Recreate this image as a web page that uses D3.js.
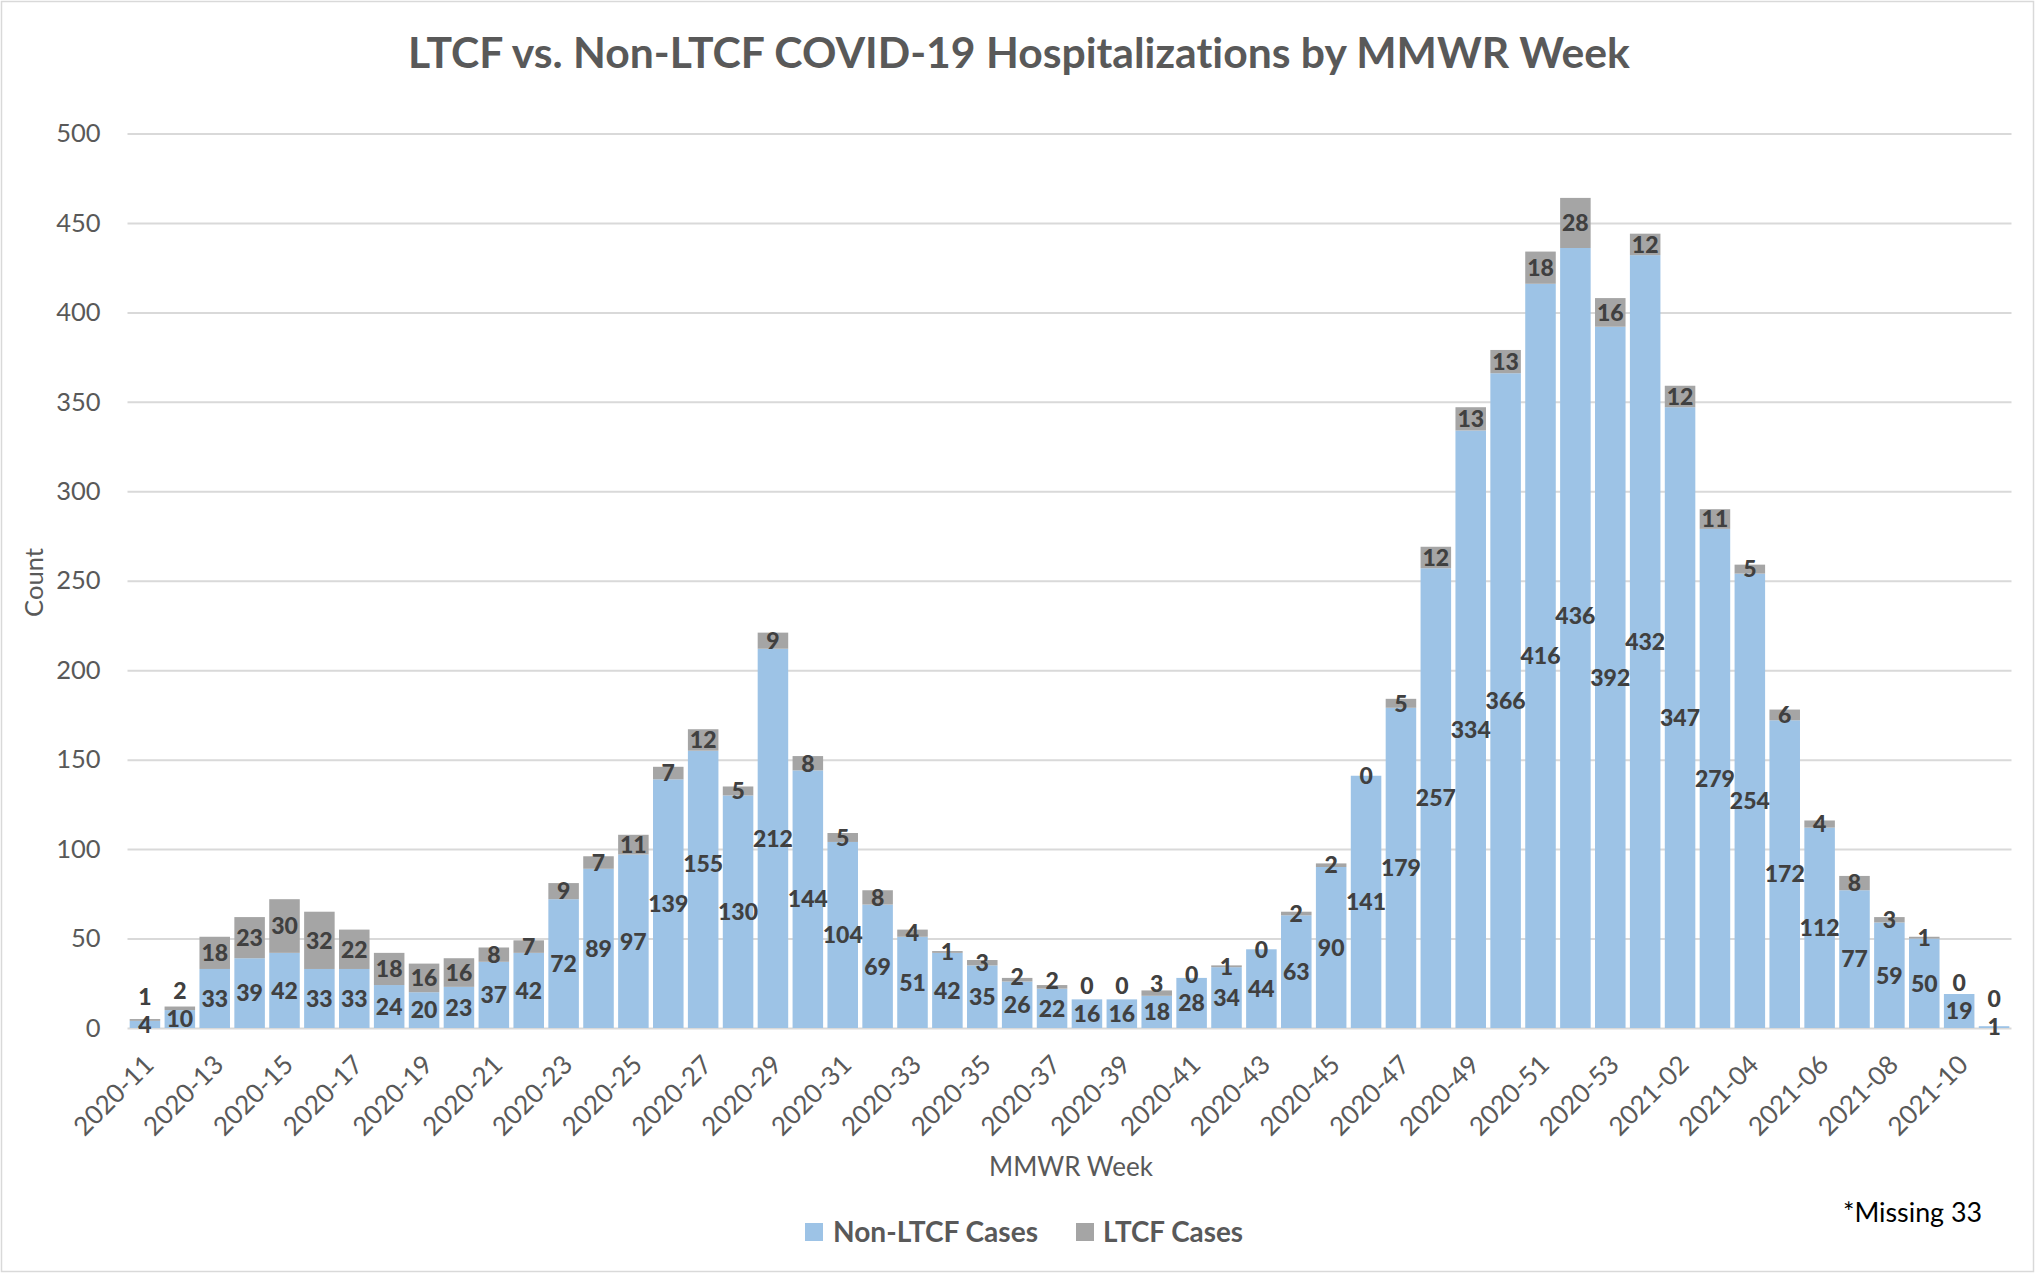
<!DOCTYPE html>
<html>
<head>
<meta charset="utf-8">
<script src="https://cdn.jsdelivr.net/npm/d3@7"></script>
<style>
  html, body { margin: 0; padding: 0; background: #fff; }
  svg { display: block; }
  text { font-family: Lato, "Open Sans", sans-serif; font-variant-ligatures: none; font-feature-settings: "liga" 0; }
</style>
</head>
<body>
<svg id="chart" width="2036" height="1273"></svg>
<script>
// ---------------- DATA ----------------
const weeks = [
  "2020-11","2020-12","2020-13","2020-14","2020-15","2020-16","2020-17","2020-18","2020-19","2020-20",
  "2020-21","2020-22","2020-23","2020-24","2020-25","2020-26","2020-27","2020-28","2020-29","2020-30",
  "2020-31","2020-32","2020-33","2020-34","2020-35","2020-36","2020-37","2020-38","2020-39","2020-40",
  "2020-41","2020-42","2020-43","2020-44","2020-45","2020-46","2020-47","2020-48","2020-49","2020-50",
  "2020-51","2020-52","2020-53","2021-01","2021-02","2021-03","2021-04","2021-05","2021-06","2021-07",
  "2021-08","2021-09","2021-10","2021-11"
];
const nonLtcfCases = [
  4, 10, 33, 39, 42, 33, 33, 24, 20, 23,
  37, 42, 72, 89, 97, 139, 155, 130, 212, 144,
  104, 69, 51, 42, 35, 26, 22, 16, 16, 18,
  28, 34, 44, 63, 90, 141, 179, 257, 334, 366,
  416, 436, 392, 432, 347, 279, 254, 172, 112, 77,
  59, 50, 19, 1
];
const ltcfCases = [
  1, 2, 18, 23, 30, 32, 22, 18, 16, 16,
  8, 7, 9, 7, 11, 7, 12, 5, 9, 8,
  5, 8, 4, 1, 3, 2, 2, 0, 0, 3,
  0, 1, 0, 2, 2, 0, 5, 12, 13, 13,
  18, 28, 16, 12, 12, 11, 5, 6, 4, 8,
  3, 1, 0, 0
];
const xTickLabels = [
  "2020-11","2020-13","2020-15","2020-17","2020-19","2020-21","2020-23","2020-25","2020-27","2020-29",
  "2020-31","2020-33","2020-35","2020-37","2020-39","2020-41","2020-43","2020-45","2020-47","2020-49",
  "2020-51","2020-53","2021-02","2021-04","2021-06","2021-08","2021-10"
];
const yTicks = [0, 50, 100, 150, 200, 250, 300, 350, 400, 450, 500];
const seriesNames = ["Non-LTCF Cases", "LTCF Cases"];
const titleText = "LTCF vs. Non-LTCF COVID-19 Hospitalizations by MMWR Week";
const xAxisTitle = "MMWR Week";
const yAxisTitle = "Count";
const noteText = "*Missing 33";

// ---------------- STYLE ----------------
const W = 2036, H = 1273;
const plotLeft = 127.5, plotRight = 2011.5, plotTop = 133.5, plotBottom = 1028;
const blue = "#9DC3E6", gray = "#A5A5A5";
const axisText = "#595959", labelText = "#404040", gridColor = "#D9D9D9";
const labelFs = 23;

const svg = d3.select("#chart");

function fitWidth(sel, target) {
  const w = sel.node().getComputedTextLength();
  const fs = parseFloat(sel.attr("font-size"));
  sel.attr("font-size", (fs * target / w).toFixed(2));
}

// border
svg.append("rect").attr("x", 1.5).attr("y", 1.5).attr("width", W - 4).attr("height", H - 3)
  .attr("fill", "#fff").attr("stroke", gridColor).attr("stroke-width", 1.5);

// scales
const x = d3.scaleBand().domain(weeks).range([plotLeft, plotRight])
  .paddingInner(0.125).paddingOuter(0.0625);
const y = d3.scaleLinear().domain([0, 500]).range([plotBottom, plotTop]);

// y axis + grid
const yAxis = svg.append("g").attr("transform", `translate(${plotLeft},0)`)
  .call(d3.axisLeft(y).tickValues(yTicks).tickSize(-(plotRight - plotLeft)).tickPadding(27));
yAxis.select(".domain").remove();
yAxis.selectAll(".tick line").attr("stroke", gridColor).attr("stroke-width", 2);
yAxis.selectAll(".tick text").attr("fill", axisText).attr("font-size", 25.5)
  .attr("font-family", "Lato, 'Open Sans', sans-serif");

// stacked data
const table = weeks.map((w, i) => ({ week: w, non: nonLtcfCases[i], ltcf: ltcfCases[i] }));
const stacked = d3.stack().keys(["non", "ltcf"])(table);
const colors = [blue, gray];

svg.append("g").selectAll("g").data(stacked).join("g")
  .attr("fill", (d, i) => colors[i])
  .selectAll("rect").data(d => d).join("rect")
  .attr("x", d => x(d.data.week))
  .attr("width", x.bandwidth())
  .attr("y", d => y(d[1]))
  .attr("height", d => y(d[0]) - y(d[1]));

// x axis labels
const xAxis = svg.append("g").attr("transform", `translate(0,${plotBottom})`)
  .call(d3.axisBottom(x).tickValues(xTickLabels).tickSize(0));
xAxis.select(".domain").remove();
xAxis.selectAll(".tick text")
  .attr("fill", axisText).attr("font-size", 26)
  .attr("font-family", "Lato, 'Open Sans', sans-serif")
  .attr("text-anchor", "end")
  .attr("x", 0).attr("y", 0).attr("dy", "0.35em")
  .attr("transform", "translate(4,32) rotate(-45)");

// data labels
const cxOf = i => x(weeks[i]) + x.bandwidth() / 2;
const blueY = stacked[0].map(d => (y(d[0]) + y(d[1])) / 2);
for (let i = 1; i < blueY.length; i++) {
  const a = String(nonLtcfCases[i - 1]).length >= 3, b = String(nonLtcfCases[i]).length >= 3;
  if (a && b && Math.abs(blueY[i] - blueY[i - 1]) < 20) {
    if (nonLtcfCases[i] > nonLtcfCases[i - 1]) blueY[i] = blueY[i - 1] - 40;
    else blueY[i - 1] = blueY[i] - 40;
  }
}
const grayY = stacked[1].map((d, i) => {
  let gy = (y(d[0]) + y(d[1])) / 2;
  if (blueY[i] - gy < 28) gy = blueY[i] - 28;
  return gy;
});

const labels = svg.append("g").attr("font-weight", 900).attr("font-size", labelFs)
  .attr("fill", labelText).attr("text-anchor", "middle");
labels.selectAll("text.nl").data(nonLtcfCases).join("text").attr("class", "nl")
  .attr("x", (d, i) => cxOf(i)).attr("y", (d, i) => blueY[i]).attr("dy", "0.36em").text(d => d);
labels.selectAll("text.lt").data(ltcfCases).join("text").attr("class", "lt")
  .attr("x", (d, i) => cxOf(i)).attr("y", (d, i) => grayY[i]).attr("dy", "0.36em").text(d => d);

// title
const title = svg.append("text").attr("x", 1019).attr("y", 68).attr("text-anchor", "middle")
  .attr("font-weight", 700).attr("font-size", 40).attr("fill", axisText).text(titleText);
fitWidth(title, 1222);

// axis titles
const xt = svg.append("text").attr("x", 1071).attr("y", 1176).attr("text-anchor", "middle")
  .attr("font-size", 25).attr("fill", axisText).text(xAxisTitle);
fitWidth(xt, 164);
const yt = svg.append("text").attr("transform", "translate(43,582.5) rotate(-90)")
  .attr("text-anchor", "middle").attr("font-size", 25).attr("fill", axisText).text(yAxisTitle);
fitWidth(yt, 69);

// legend
const legend = svg.append("g");
const legendItems = [
  { name: seriesNames[0], color: blue, sx: 805, tx: 833, tw: 205 },
  { name: seriesNames[1], color: gray, sx: 1076, tx: 1103, tw: 140 }
];
legendItems.forEach(it => {
  legend.append("rect").attr("x", it.sx).attr("y", 1223).attr("width", 18).attr("height", 18).attr("fill", it.color);
  const t = legend.append("text").attr("x", it.tx).attr("y", 1241.5).attr("font-weight", 700)
    .attr("font-size", 27).attr("fill", axisText).text(it.name);
  fitWidth(t, it.tw);
});

// note
const note = svg.append("text").attr("x", 1843).attr("y", 1222).attr("font-size", 27)
  .attr("fill", "#000").text(noteText);
fitWidth(note, 139);
</script>
</body>
</html>
